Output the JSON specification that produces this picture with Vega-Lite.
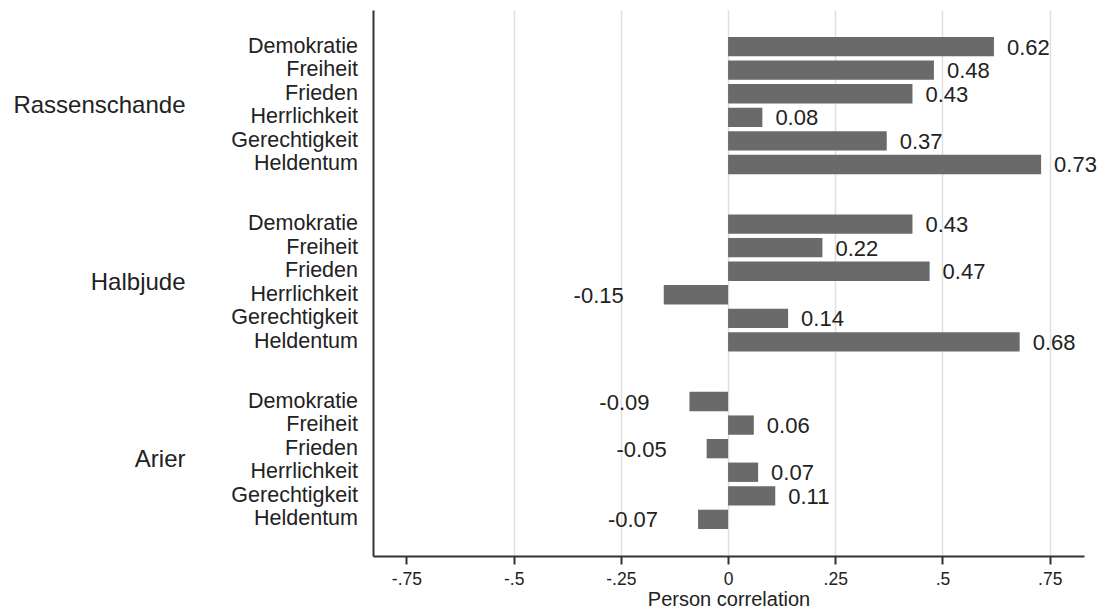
{
  "$schema": "https://vega.github.io/schema/vega-lite/v6.json",
  "width": 711,
  "height": 546,
  "autosize": {"type": "none"},
  "padding": {"left": 373, "top": 10, "right": 20, "bottom": 56},
  "background": "white",
  "config": {"view": {"stroke": null}, "font": "Liberation Sans"},
  "data": {
    "values": [
      {"group": "Rassenschande", "item": "Demokratie", "r": 0.62},
      {"group": "Rassenschande", "item": "Freiheit", "r": 0.48},
      {"group": "Rassenschande", "item": "Frieden", "r": 0.43},
      {"group": "Rassenschande", "item": "Herrlichkeit", "r": 0.08},
      {"group": "Rassenschande", "item": "Gerechtigkeit", "r": 0.37},
      {"group": "Rassenschande", "item": "Heldentum", "r": 0.73},
      {"group": "Halbjude", "item": "Demokratie", "r": 0.43},
      {"group": "Halbjude", "item": "Freiheit", "r": 0.22},
      {"group": "Halbjude", "item": "Frieden", "r": 0.47},
      {"group": "Halbjude", "item": "Herrlichkeit", "r": -0.15},
      {"group": "Halbjude", "item": "Gerechtigkeit", "r": 0.14},
      {"group": "Halbjude", "item": "Heldentum", "r": 0.68},
      {"group": "Arier", "item": "Demokratie", "r": -0.09},
      {"group": "Arier", "item": "Freiheit", "r": 0.06},
      {"group": "Arier", "item": "Frieden", "r": -0.05},
      {"group": "Arier", "item": "Herrlichkeit", "r": 0.07},
      {"group": "Arier", "item": "Gerechtigkeit", "r": 0.11},
      {"group": "Arier", "item": "Heldentum", "r": -0.07}
    ]
  },
  "encoding": {
    "y": {
      "field": "group",
      "type": "nominal",
      "sort": ["Rassenschande", "Halbjude", "Arier"],
      "scale": {"paddingInner": 0.203, "paddingOuter": 0.14},
      "axis": {
        "title": null,
        "ticks": false,
        "labelPadding": 188,
        "labelLimit": 400,
        "labelFontSize": 24,
        "labelColor": "#222222",
        "domainColor": "#333333",
        "domainWidth": 2
      }
    },
    "yOffset": {
      "field": "item",
      "type": "nominal",
      "sort": ["Demokratie", "Freiheit", "Frieden", "Herrlichkeit", "Gerechtigkeit", "Heldentum"],
      "scale": {"paddingInner": 0.18, "paddingOuter": 0.09}
    }
  },
  "layer": [
    {
      "mark": {"type": "bar", "color": "#6a6a6a"},
      "encoding": {
        "x": {
          "field": "r",
          "type": "quantitative",
          "scale": {"domain": [-0.828, 0.83], "nice": false, "zero": false},
          "axis": {
            "values": [-0.75, -0.5, -0.25, 0, 0.25, 0.5, 0.75],
            "labelExpr": "replace(replace(format(datum.value, '.2~f'), '0.', '.'), '\u2212', '-')",
            "tickSize": 8,
            "tickWidth": 2,
            "tickColor": "#333333",
            "domainColor": "#333333",
            "domainWidth": 2,
            "labelFontSize": 17.5,
            "labelColor": "#222222",
            "labelPadding": 6,
            "title": "Person correlation",
            "titleFontSize": 20,
            "titleFontWeight": "normal",
            "titleColor": "#222222",
            "titlePadding": 2,
            "grid": true,
            "gridColor": "#e0e0e0",
            "gridWidth": 1.5,
            "gridOpacity": {"condition": {"test": "datum.value === -0.75", "value": 0}, "value": 1}
          }
        },
        "x2": {"datum": 0}
      }
    },
    {
      "mark": {"type": "text", "align": "right", "baseline": "middle", "dx": -15, "fontSize": 21.5, "color": "#222222"},
      "encoding": {
        "x": {"datum": -0.828},
        "text": {"field": "item"}
      }
    },
    {
      "transform": [
        {"filter": "datum.r >= 0"},
        {"calculate": "format(datum.r, '.2f')", "as": "lab"}
      ],
      "mark": {"type": "text", "align": "left", "baseline": "middle", "dx": 13, "dy": 1, "fontSize": 22, "color": "#222222"},
      "encoding": {
        "x": {"field": "r", "type": "quantitative"},
        "text": {"field": "lab"}
      }
    },
    {
      "transform": [
        {"filter": "datum.r < 0"},
        {"calculate": "'-' + format(-datum.r, '.2f')", "as": "lab"}
      ],
      "mark": {"type": "text", "align": "right", "baseline": "middle", "dx": -40, "dy": 1, "fontSize": 22, "color": "#222222"},
      "encoding": {
        "x": {"field": "r", "type": "quantitative"},
        "text": {"field": "lab"}
      }
    }
  ]
}
